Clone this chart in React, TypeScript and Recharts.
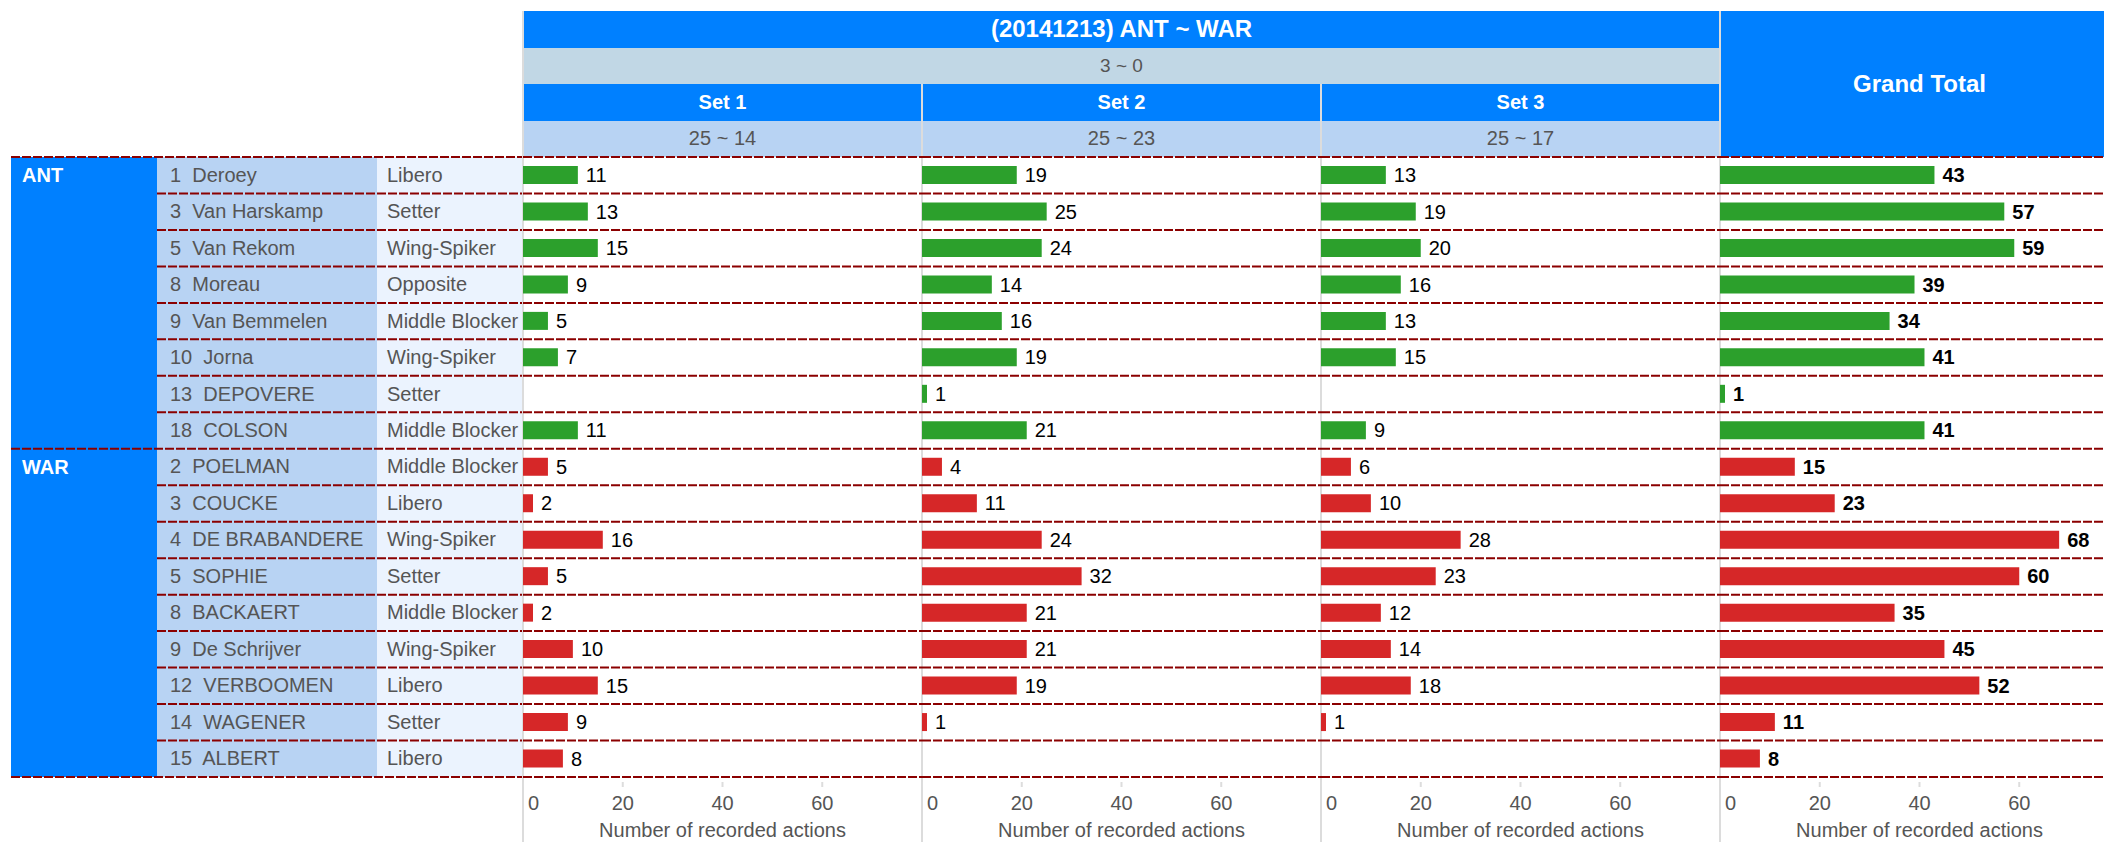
import React from "react";
import { BarChart, Bar, XAxis, YAxis, CartesianGrid, LabelList, Cell } from "recharts";

const matchTitle = "(20141213) ANT ~ WAR";
const matchScore = "3 ~ 0";
const setNames = ["Set 1", "Set 2", "Set 3"];
const setScores = ["25 ~ 14", "25 ~ 23", "25 ~ 17"];
const totalTitle = "Grand Total";
const teamNames = ["ANT", "WAR"];

const playerTeams = [
  "ANT", "ANT", "ANT", "ANT", "ANT", "ANT", "ANT", "ANT",
  "WAR", "WAR", "WAR", "WAR", "WAR", "WAR", "WAR", "WAR", "WAR",
];
const playerNumbers = [1, 3, 5, 8, 9, 10, 13, 18, 2, 3, 4, 5, 8, 9, 12, 14, 15];
const playerNames = [
  "Deroey", "Van Harskamp", "Van Rekom", "Moreau", "Van Bemmelen", "Jorna", "DEPOVERE", "COLSON",
  "POELMAN", "COUCKE", "DE BRABANDERE", "SOPHIE", "BACKAERT", "De Schrijver", "VERBOOMEN", "WAGENER", "ALBERT",
];
const playerRoles = [
  "Libero", "Setter", "Wing-Spiker", "Opposite", "Middle Blocker", "Wing-Spiker", "Setter", "Middle Blocker",
  "Middle Blocker", "Libero", "Wing-Spiker", "Setter", "Middle Blocker", "Wing-Spiker", "Libero", "Setter", "Libero",
];

const set1Actions = [11, 13, 15, 9, 5, 7, null, 11, 5, 2, 16, 5, 2, 10, 15, 9, 8];
const set2Actions = [19, 25, 24, 14, 16, 19, 1, 21, 4, 11, 24, 32, 21, 21, 19, 1, null];
const set3Actions = [13, 19, 20, 16, 13, 15, null, 9, 6, 10, 28, 23, 12, 14, 18, 1, null];
const totalActions = [43, 57, 59, 39, 34, 41, 1, 41, 15, 23, 68, 60, 35, 45, 52, 11, 8];

const xTicks = [0, 20, 40, 60];
const axisTitle = "Number of recorded actions";

// layout
const FONT = "'Liberation Sans', Arial, Helvetica, sans-serif";
const BLUE = "#0080ff";
const GREEN = "#2ca02c";
const RED = "#d62728";
const DASH = "#8b0000";
const DASH_PATTERN = "9 2";
const TEAM_X = 11;
const NAME_X = 157;
const ROLE_X = 377;
const PANEL_X = 523;
const PANEL_W = 399;
const HEAD_TOP = 11;
const HEAD_ROW = 36.5;
const ROWS_TOP = 157;
const ROWS_H = 620;
const ROW_H = ROWS_H / playerNames.length;
const PAGE_W = 2104;
const PAGE_H = 842;

function AxisTick(props: any) {
  const { x, y, payload } = props;
  const first = payload.value === 0;
  return (
    <g>
      <line x1={x} x2={x} y1={y + 5} y2={y + 10} stroke="#ddd" strokeWidth={2} />
      <text x={first ? x + 5 : x} y={y} dy={33} textAnchor={first ? "start" : "middle"} fill="#555" fontSize={20}>
        {payload.value}
      </text>
    </g>
  );
}

function Panel({ left, values, bold }: { left: number; values: (number | null)[]; bold?: boolean }) {
  const data = playerNames.map((n, i) => ({ key: `${playerTeams[i]}-${playerNumbers[i]}`, value: values[i], team: playerTeams[i] }));
  return (
    <div style={{ position: "absolute", left, top: ROWS_TOP - 2 }}>
      <BarChart
        layout="vertical"
        width={PANEL_W}
        height={PAGE_H - ROWS_TOP + 2}
        data={data}
        margin={{ top: 2, right: 0, bottom: 0, left: 0 }}
        barSize={18}
      >
        <CartesianGrid
          vertical={false}
          stroke={DASH}
          strokeWidth={2}
          strokeDasharray={DASH_PATTERN}
          horizontalCoordinatesGenerator={({ offset }: any) =>
            Array.from({ length: data.length + 1 }, (_, i) => offset.top + (i * offset.height) / data.length)
          }
        />
        <XAxis
          type="number"
          domain={[0, 80]}
          ticks={xTicks}
          interval={0}
          height={65}
          axisLine={false}
          tickLine={false}
          tickSize={0}
          tickMargin={0}
          tick={<AxisTick />}
          label={{ value: axisTitle, position: "insideBottom", offset: 5, fill: "#555", fontSize: 20 }}
        />
        <YAxis type="category" dataKey="key" hide />
        <Bar dataKey="value" isAnimationActive={false}>
          {data.map((d, i) => (
            <Cell key={i} fill={d.team === "ANT" ? GREEN : RED} />
          ))}
          <LabelList
            dataKey="value"
            position="right"
            offset={8}
            fill="#000"
            fontSize={20}
            fontWeight={bold ? 700 : 400}
            formatter={(v: any) => (v == null ? "" : v)}
          />
        </Bar>
      </BarChart>
    </div>
  );
}

const cell = (left: number, top: number, width: number, height: number, bg: string): React.CSSProperties => ({
  position: "absolute",
  left,
  top,
  width,
  height,
  background: bg,
  display: "flex",
  alignItems: "center",
  justifyContent: "center",
  boxSizing: "border-box",
});

export default function App() {
  const setValues = [set1Actions, set2Actions, set3Actions];
  const headW = PANEL_W * 3;
  const antCount = playerTeams.filter((t) => t === "ANT").length;
  const groupStarts = [0, antCount, playerNames.length];

  return (
    <div
      style={{
        position: "absolute",
        left: 0,
        top: 0,
        width: PAGE_W,
        height: PAGE_H,
        overflow: "hidden",
        background: "#fff",
        fontFamily: FONT,
      }}
    >
      {/* header */}
      <div style={{ ...cell(PANEL_X, HEAD_TOP, headW, HEAD_ROW, BLUE), color: "#fff", fontWeight: 700, fontSize: 24 }}>
        {matchTitle}
      </div>
      <div style={{ ...cell(PANEL_X, HEAD_TOP + HEAD_ROW, headW, HEAD_ROW, "#c1d7e5"), color: "#555", fontSize: 19 }}>
        {matchScore}
      </div>
      {setNames.map((s, i) => (
        <div key={s}>
          <div style={{ ...cell(PANEL_X + i * PANEL_W, HEAD_TOP + 2 * HEAD_ROW, PANEL_W, HEAD_ROW, BLUE), color: "#fff", fontWeight: 700, fontSize: 20 }}>
            {s}
          </div>
          <div style={{ ...cell(PANEL_X + i * PANEL_W, HEAD_TOP + 3 * HEAD_ROW, PANEL_W, HEAD_ROW, "#b8d3f3"), color: "#555", fontSize: 20 }}>
            {setScores[i]}
          </div>
        </div>
      ))}
      <div style={{ ...cell(PANEL_X + 3 * PANEL_W, HEAD_TOP, PANEL_W, 4 * HEAD_ROW, BLUE), color: "#fff", fontWeight: 700, fontSize: 24 }}>
        {totalTitle}
      </div>

      {/* row labels */}
      {teamNames.map((t, g) => {
        const top = ROWS_TOP + groupStarts[g] * ROW_H;
        const h = (groupStarts[g + 1] - groupStarts[g]) * ROW_H;
        return (
          <div
            key={t}
            style={{ ...cell(TEAM_X, top, NAME_X - TEAM_X, h, BLUE), alignItems: "flex-start", justifyContent: "flex-start", padding: "7px 0 0 11px", color: "#fff", fontWeight: 700, fontSize: 20 }}
          >
            {t}
          </div>
        );
      })}
      {playerNames.map((n, i) => (
        <div key={i}>
          <div style={{ ...cell(NAME_X, ROWS_TOP + i * ROW_H, ROLE_X - NAME_X, ROW_H, "#b8d3f3"), justifyContent: "flex-start", paddingLeft: 13, color: "#555", fontSize: 20, whiteSpace: "pre" }}>
            {`${playerNumbers[i]}  ${n}`}
          </div>
          <div style={{ ...cell(ROLE_X, ROWS_TOP + i * ROW_H, PANEL_X - ROLE_X, ROW_H, "#ebf3fe"), justifyContent: "flex-start", paddingLeft: 10, color: "#555", fontSize: 20, whiteSpace: "nowrap" }}>
            {playerRoles[i]}
          </div>
        </div>
      ))}
      <svg style={{ position: "absolute", left: 0, top: 0 }} width={PANEL_X} height={PAGE_H}>
        {Array.from({ length: playerNames.length + 1 }, (_, i) => (
          <line
            key={i}
            x1={groupStarts.includes(i) ? TEAM_X : NAME_X}
            x2={PANEL_X}
            y1={ROWS_TOP + i * ROW_H}
            y2={ROWS_TOP + i * ROW_H}
            stroke={DASH}
            strokeWidth={2}
            strokeDasharray={DASH_PATTERN}
          />
        ))}
      </svg>

      {/* panel separators */}
      {[0, 1, 2, 3].map((i) => {
        const top = i === 1 || i === 2 ? HEAD_TOP + 2 * HEAD_ROW : HEAD_TOP;
        return (
          <div
            key={i}
            style={{ position: "absolute", left: PANEL_X + i * PANEL_W - 1, top, width: 2, height: PAGE_H - top, background: "#dcdcdc" }}
          />
        );
      })}

      {setValues.map((v, i) => (
        <Panel key={i} left={PANEL_X + i * PANEL_W} values={v} />
      ))}
      <Panel left={PANEL_X + 3 * PANEL_W} values={totalActions} bold />
    </div>
  );
}
